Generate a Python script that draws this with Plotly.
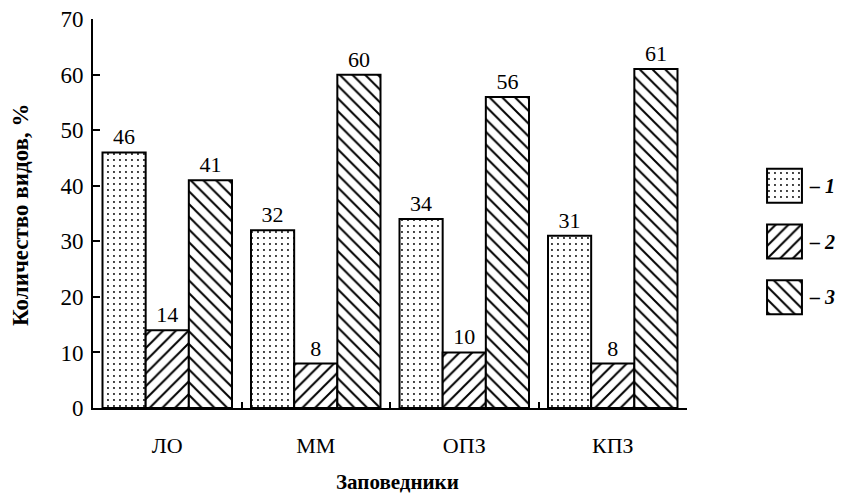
import plotly.graph_objects as go

categories = ["ЛО", "ММ", "ОПЗ", "КПЗ"]
series1 = [46, 32, 34, 31]
series2 = [14, 8, 10, 8]
series3 = [41, 60, 56, 61]
legend_labels = ["– 1", "– 2", "– 3"]
y_ticks = [0, 10, 20, 30, 40, 50, 60, 70]

FONT = "Liberation Serif"
shapes = [".", "/", "\\"]
sizes = [6, 9, 9]
solid = [0.08, 0.22, 0.22]

# page body has an 8px margin: figure drawn 8px right/down
W, H = 837, 488
L, T, B = 85, 11, 88
PW = W - L
PH = H - T - B

def px_x(x):  # reference pixel -> paper
    return (x - 8 - L) / PW

def px_y(y):
    return (H - B - (y - 8)) / PH

fig = go.Figure()
for vals, shp, sz, so in zip([series1, series2, series3], shapes, sizes, solid):
    fig.add_trace(go.Bar(
        x=categories, y=vals,
        marker=dict(color="white", line=dict(color="black", width=2),
                    pattern=dict(shape=shp, fgcolor="black", bgcolor="white",
                                 size=sz, solidity=so, fillmode="replace")),
        text=vals, textposition="outside", cliponaxis=False,
        textfont=dict(family=FONT, size=22, color="black"),
        constraintext="none",
        showlegend=False, hoverinfo="skip",
    ))

# legend swatches as a small bar chart on secondary axes
fig.add_trace(go.Bar(
    y=legend_labels, x=[1, 1, 1], orientation="h", width=0.61,
    xaxis="x2", yaxis="y2", offsetgroup="leg",
    marker=dict(color="white", line=dict(color="black", width=2),
                pattern=dict(shape=shapes, fgcolor="black", bgcolor="white",
                             size=sizes, solidity=solid, fillmode="replace")),
    showlegend=False, hoverinfo="skip",
))

fig.update_layout(
    width=W, height=H,
    margin=dict(l=L, r=0, t=T, b=B, autoexpand=False),
    paper_bgcolor="white", plot_bgcolor="white",
    barmode="group", bargap=0.128, bargroupgap=0,
    font=dict(family=FONT, color="black"),
    xaxis=dict(
        domain=[0, px_x(687)], range=[-0.5, 3.5], automargin=False,
        showline=True, linecolor="black", linewidth=2,
        ticks="inside", tickson="boundaries", ticklen=6, tickwidth=2, tickcolor="black",
        showgrid=False, zeroline=False, ticklabelstandoff=17,
        tickfont=dict(family=FONT, size=22),
    ),
    yaxis=dict(
        range=[0, 70.02], tickvals=y_ticks, automargin=False,
        showline=True, linecolor="black", linewidth=2,
        ticks="inside", ticklen=7, tickwidth=2, tickcolor="black",
        showgrid=False, zeroline=False, ticklabelstandoff=3,
        ticklabeloverflow="allow",
        tickfont=dict(family=FONT, size=23),
    ),
    xaxis2=dict(domain=[px_x(766), px_x(803)], range=[-0.03, 1.03], anchor="y2",
                visible=False, fixedrange=True, automargin=False),
    yaxis2=dict(domain=[px_y(325), px_y(158)], range=[2.5, -0.5], anchor="x2", automargin=False,
                side="right", showline=False, showgrid=False, zeroline=False,
                ticks="", ticklabelstandoff=6,
                tickfont=dict(family=FONT, size=20, style="italic", weight="bold")),
    annotations=[
        dict(text="<b>Заповедники</b>", xref="paper", yref="paper",
             x=px_x(397), y=px_y(482), xanchor="center", yanchor="middle",
             showarrow=False, font=dict(family=FONT, size=21)),
        dict(text="<b>Количество видов, %</b>", xref="paper", yref="paper",
             x=px_x(20), y=px_y(215), xanchor="center", yanchor="middle", textangle=-90,
             showarrow=False, font=dict(family=FONT, size=23)),
    ],
)

fig.write_html("out.html")
